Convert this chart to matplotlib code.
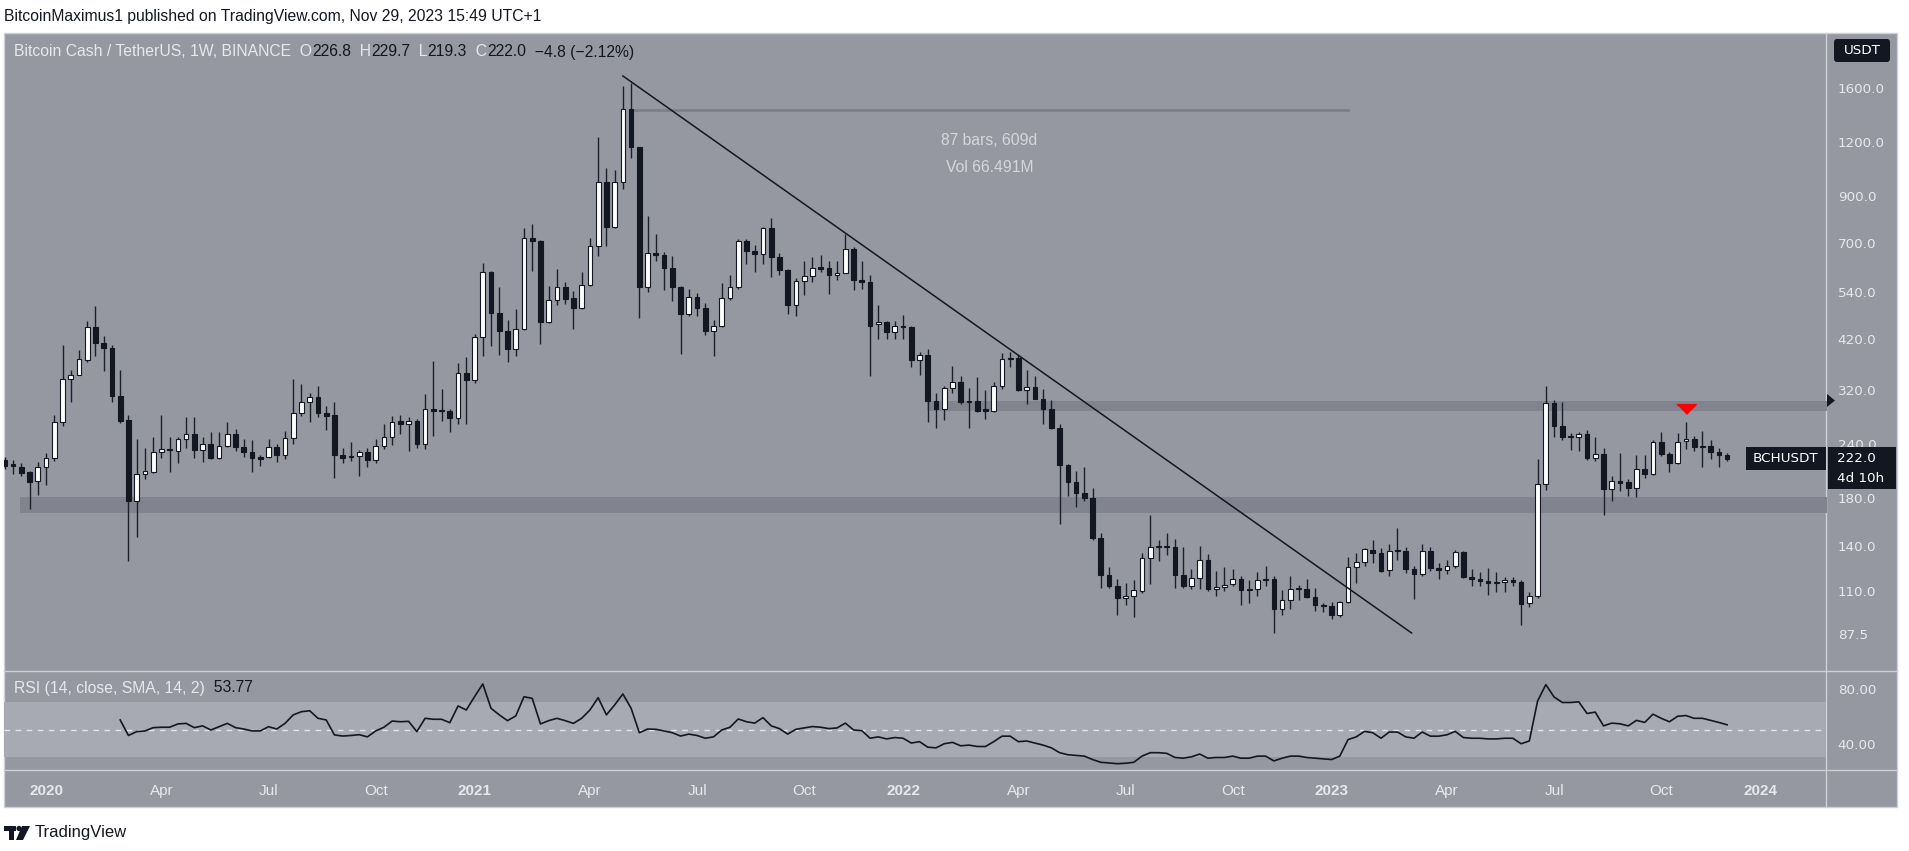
import numpy as np
import pandas as pd
import matplotlib
matplotlib.use('Agg')
import matplotlib.pyplot as plt
import matplotlib.dates as mdates
from matplotlib.ticker import FixedLocator, NullLocator, FuncFormatter
from matplotlib.patches import Rectangle, Polygon, Circle, FancyBboxPatch

# weekly BCHUSDT (Binance) candles, first bar = week of 2019-11-25
first_week = '2019-11-25'
opens = [221, 216, 213, 207, 197, 213, 223, 271, 340, 348,
         376, 448, 412, 401, 311, 273, 178, 205, 207, 231,
         234, 232, 247, 253, 233, 241, 223, 238, 254, 237,
         231, 223, 224, 237, 227, 248, 284, 300, 309, 284,
         280, 227, 224, 226, 230, 221, 238, 250, 272, 268,
         272, 241, 289, 287, 287, 276, 350, 338, 424, 600,
         482, 438, 398, 443, 719, 707, 460, 517, 553, 523,
         496, 561, 690, 971, 762, 971, 1429, 1166, 553, 664,
         656, 612, 555, 480, 526, 496, 438, 451, 524, 555,
         709, 673, 660, 758, 650, 607, 503, 572, 589, 616,
         612, 592, 597, 678, 575, 570, 455, 460, 436, 451,
         448, 376, 387, 302, 290, 324, 335, 301, 303, 289,
         286, 327, 377, 379, 320, 326, 306, 289, 262, 215,
         196, 185, 180, 146, 120, 113, 106, 107, 110, 131,
         139, 140, 139, 119.5, 113, 118, 130, 111, 112.5, 114,
         117, 110.6, 111, 116.6, 117, 100, 105, 111, 111, 106.3,
         102.3, 101.5, 97, 104, 125, 128.5, 137, 135, 123, 136.4,
         136, 123.5, 120.5, 135.8, 124.6, 123, 125.6, 135.4, 118.6, 117.5,
         116, 115, 115.3, 116.6, 115.7, 103, 107, 194, 299, 265,
         249.5, 250, 254, 223.5, 228.5, 189.4, 197.7, 196, 190, 210.7,
         204.8, 243, 228.5, 217.5, 244.5, 246.5, 237, 238, 231, 226.8]
highs = [224, 221, 217, 208, 218, 229, 280, 407, 356, 397,
         463, 500, 427, 408, 356, 280, 247, 235, 250, 280,
         249, 250, 277, 278, 249, 256, 256, 270, 260, 247,
         246, 227, 247, 240, 258, 339, 330, 315, 328, 295,
         300, 235, 243, 233, 235, 247, 268, 279, 280, 278,
         274, 314, 373, 322, 290, 369, 381, 431, 629, 605,
         553, 465, 492, 757, 776, 712, 556, 610, 570, 542,
         601, 719, 1228, 1041, 1032, 1615, 1643, 1170, 808, 735,
         668, 652, 556, 548, 536, 510, 465, 565, 592, 715,
         716, 693, 764, 800, 663, 610, 580, 637, 650, 658,
         638, 636, 733, 686, 637, 590, 504, 462, 462, 478,
         451, 392, 398, 316, 327, 364, 345, 324, 344, 320,
         334, 390, 393, 386, 356, 346, 322, 304, 268, 216,
         208, 213, 190, 150, 125, 117, 115, 116.6, 135, 165,
         144, 150, 145, 139, 124, 140, 134, 122.5, 125, 124,
         119, 116.6, 121.5, 125.5, 119, 110.6, 119, 113.5, 117, 112,
         103.5, 104, 104.5, 132, 134.5, 138.5, 144, 138, 141.6, 154,
         139, 125.6, 141, 139, 128, 130, 137, 136, 123.6, 121.6,
         124.6, 121.6, 118.6, 118.6, 116.6, 109.6, 222, 327, 304, 301,
         255, 256, 259, 250, 236, 202.6, 229, 199.5, 227, 227,
         245, 256, 230.7, 255.4, 270, 251.5, 258, 245.6, 235, 229.7]
lows = [211, 205, 203, 170, 183, 193, 220, 265, 300, 347,
        372, 385, 354, 300, 269, 129, 147, 200, 206, 223,
        207, 217, 236, 223, 219, 222, 222, 237, 232, 225,
        207, 214, 223, 219, 222, 240, 279, 271, 277, 259,
        201, 217, 220, 203, 213, 217, 234, 239, 254, 232,
        236, 234, 251, 272, 256, 267, 268, 332, 384, 405,
        387, 372, 385, 441, 605, 409, 458, 503, 506, 443,
        493, 558, 655, 690, 757, 932, 1102, 470, 540, 636,
        545, 515, 388, 475, 475, 430, 385, 447, 517, 548,
        625, 600, 628, 583, 592, 480, 475, 530, 570, 600,
        535, 575, 597, 545, 549, 346, 420, 420, 420, 421,
        363, 348, 270, 262, 273, 316, 298, 262, 285, 274,
        285, 322, 363, 318, 297, 305, 268, 260, 157, 182,
        172, 178, 144, 112, 112, 97, 102, 96, 109, 114,
        129, 133, 112, 112, 111, 111, 110, 107, 110, 113,
        102, 103, 107, 112.7, 88, 97, 100, 105, 106, 99,
        98.6, 95, 96, 103, 115, 125.6, 128, 121.5, 119.4, 129.5,
        121, 105.4, 119.4, 122.5, 117, 120.4, 124.6, 118, 112.7, 113,
        107.5, 109.3, 109.6, 113, 91.6, 101, 106, 188, 250, 246,
        233, 232, 221, 219.5, 165, 177.6, 187.6, 182.7, 181.7, 201,
        204, 226, 207, 216.7, 234, 232, 213, 222, 213, 219.3]
closes = [214, 214, 206, 196, 213, 223, 271, 340, 348, 377,
          448, 412, 400, 310, 272, 178, 205, 208, 231, 234,
          233, 247, 253, 233, 241, 223, 238, 254, 237, 231,
          223, 222.5, 237, 227, 248, 284, 301, 309, 284, 279,
          227, 223, 226, 230, 221, 238, 250, 271, 268, 272,
          241, 289, 287, 288, 276, 350, 338, 424, 600, 482,
          438, 398, 443, 719, 707, 460, 517, 553, 521, 496,
          561, 690, 971, 762, 971, 1429, 1166, 553, 664, 656,
          612, 555, 480, 526, 496, 438, 451, 524, 555, 709,
          673, 660, 758, 650, 607, 503, 572, 589, 612, 610,
          592, 597, 678, 575, 570, 451, 460, 436, 451, 448,
          376, 387, 302, 290, 324, 335, 301, 303, 287, 286,
          327, 377, 379, 320, 326, 306, 289, 262, 215, 196,
          185, 180, 146, 120, 113, 106, 107, 110.6, 131, 139,
          140, 139, 119.5, 113, 118, 130, 111, 112.5, 113.5, 117,
          110.6, 111, 116.6, 117, 100, 105, 111, 111.2, 106.3, 102.3,
          101.4, 97, 104, 125, 128.5, 137.3, 135, 122.5, 136.4, 136,
          123.5, 120.5, 135.8, 124.6, 123, 125.6, 135.4, 118.6, 117, 116,
          115, 115.3, 116.6, 115.7, 102.8, 107, 194, 299, 265, 249.5,
          250.4, 254, 223, 228.5, 189.4, 197.7, 195.6, 190, 210.7, 204.8,
          243, 228.5, 217.5, 243.6, 246.5, 237, 238, 230.6, 226.8, 222.0]

rsi = [57.3, 46, 48.8, 49.3, 51.7, 52, 52, 54.4, 54.8, 51.7,
       53, 50, 52.4, 54.8, 51.7, 50.7, 49.3, 49.3, 52.4, 50.7,
       54.8, 61, 63.3, 64, 58.5, 57.3, 46.4, 45.6, 46, 46.6,
       45, 49.3, 52, 56.5, 56, 56.3, 48.8, 58.5, 57.8, 57.8,
       55.3, 67.5, 64.5, 74.2, 83.5, 65.8, 61, 56.8, 60.2, 74.2,
       73, 54.4, 56.8, 58.5, 56.8, 54.8, 58.5, 64.5, 73.5, 61,
       68.2, 76.2, 65.8, 48, 50.7, 50.5, 49.3, 48, 45.6, 47,
       46, 44, 45, 50, 52, 58, 56, 55, 59, 53,
       51, 47, 50.5, 51.5, 52.5, 52, 51, 51.5, 55, 50,
       49.5, 44, 45, 43.5, 44.5, 44, 40.5, 41.5, 37.5, 37,
       40, 41, 38.5, 39, 38, 38, 41.5, 45.5, 45.5, 41.5,
       42, 40.5, 39, 37, 33.5, 32, 31.5, 31, 28.5, 26.5,
       26, 25.5, 25.8, 26.5, 31, 33.5, 33.5, 33, 30, 29.5,
       30.5, 32.5, 29.5, 30, 30, 31, 29.5, 29.5, 31, 31,
       27.5, 29.5, 31, 31, 30, 29.5, 29, 28.5, 31, 43,
       45, 49, 48, 44, 48.5, 48.5, 45, 44, 48.5, 45.5,
       45.5, 46.5, 49, 44.5, 44, 44, 43.5, 43.5, 44, 44,
       40, 42, 71, 83, 74, 70, 70, 70.5, 62, 63,
       53, 55, 54.5, 53, 57, 55.5, 61.5, 58.5, 56, 60,
       60.5, 58.5, 58.5, 57, 55.5, 53.77]

price_ticks = [1600, 1200, 900, 700, 540, 420, 320, 240, 180, 140, 110, 87.5]
rsi_ticks = [80, 40]
time_ticks = ['2019-12-30', '2020-04-06', '2020-07-06', '2020-10-05', '2020-12-28',
              '2021-04-05', '2021-07-05', '2021-10-04', '2021-12-27', '2022-04-04',
              '2022-07-04', '2022-10-03', '2022-12-26', '2023-04-03', '2023-07-03',
              '2023-10-02', '2023-12-25']
time_labels = ['2020', 'Apr', 'Jul', 'Oct', '2021', 'Apr', 'Jul', 'Oct', '2022', 'Apr',
               'Jul', 'Oct', '2023', 'Apr', 'Jul', 'Oct', '2024']

# drawings
support_zone = [166.5, 181]
support_start = '2019-12-08'
resistance_zone = [287, 302]
resistance_start = '2022-01-16'
trend_dates = ['2021-05-03', '2023-03-04']
trend_prices = [1703, 88]
range_dates = ['2021-05-10', '2023-01-09']
range_price = 1421
signal_date = '2023-10-23'
signal_price = 290

BG = '#9598a1'
BAND = '#81848e'
RSI_BAND = '#a7aab2'
DARK = '#131722'
LIGHT = '#e6e8ed'
FRAME = '#cdd0d6'
FONT = ['Liberation Sans', 'DejaVu Sans']

W, H = 1909, 851
fig = plt.figure(figsize=(W / 100, H / 100), dpi=100)
fig.patch.set_facecolor('white')


def px_axes(x0, y0, x1, y1):
    return fig.add_axes([x0 / W, 1 - y1 / H, (x1 - x0) / W, (y1 - y0) / H])


# background / frame in pixel coordinates
bg = px_axes(0, 0, W, H)
bg.set_xlim(0, W)
bg.set_ylim(H, 0)
bg.axis('off')
bg.set_zorder(-5)
bg.add_patch(Rectangle((4, 33), 1893, 774, facecolor=BG, edgecolor=FRAME, lw=1))
bg.plot([4, 1897], [671, 671], color=FRAME, lw=1)
bg.plot([4, 1897], [770, 770], color=FRAME, lw=1)
bg.plot([1826, 1826], [33, 807], color=FRAME, lw=1)

dates = pd.date_range(first_week, periods=len(closes), freq='7D')
x = mdates.date2num(dates)
o = np.array(opens)
h = np.array(highs)
l = np.array(lows)
c = np.array(closes)

ax = px_axes(4, 33, 1826, 671)
rax = px_axes(4, 671, 1826, 770)
for a in (ax, rax):
    a.set_facecolor('none')
    for s in a.spines.values():
        s.set_visible(False)

x0 = x[0]
ax.set_xlim(x0 - 0.7, x0 + 221.0 * 7)
rax.set_xlim(x0 - 0.7, x0 + 221.0 * 7)

# price pane
ax.set_yscale('log')
ax.set_ylim(71.9, 2140)
ax.yaxis.set_major_locator(FixedLocator(price_ticks))
ax.yaxis.set_minor_locator(NullLocator())
ax.yaxis.set_major_formatter(FuncFormatter(lambda v, p: f'{v:.1f}'))
ax.yaxis.tick_right()
ax.tick_params(axis='y', length=0, pad=8.5, labelsize=9.7, labelcolor=LIGHT)
ax.tick_params(axis='x', bottom=False, labelbottom=False)

x_end = x0 + 230 * 7
ax.fill_between([mdates.datestr2num(support_start), x_end], support_zone[0], support_zone[1],
                color=BAND, lw=0, zorder=1)
ax.fill_between([mdates.datestr2num(resistance_start), x_end], resistance_zone[0], resistance_zone[1],
                color=BAND, lw=0, zorder=1)
ax.plot(mdates.datestr2num(range_dates), [range_price, range_price], color='#7c7f89', lw=2, zorder=1)

up = c >= o
lo = np.minimum(o, c)
hi = np.maximum(o, c)
hgt = np.maximum(hi - lo, lo * 0.006)
ax.vlines(x, l, h, color='#1c202b', lw=1.0, zorder=3)
ax.bar(x[up], hgt[up], bottom=lo[up], width=4.0, color='white', edgecolor=DARK, lw=0.8, zorder=4)
ax.bar(x[~up], hgt[~up], bottom=lo[~up], width=4.0, color=DARK, edgecolor=DARK, lw=0.8, zorder=4)

ax.plot(mdates.datestr2num(trend_dates), trend_prices, color=DARK, lw=1.1, zorder=5)
ax.plot(mdates.datestr2num(signal_date), signal_price, marker=[(-1, 0.5), (1, 0.5), (0, -0.5)],
        color='#ff0000', ms=14, lw=0, zorder=6)

d_a, d_b = pd.to_datetime(range_dates)
n_bars = int(round((d_b - d_a).days / 7))
mid = mdates.date2num(d_a + (d_b - d_a) / 2)
ax.text(mid, 1205, f'{n_bars} bars, {(d_b - d_a).days}d', ha='center', va='center',
        color='#d5d7dc', fontsize=11.3, family=FONT)
ax.text(mid, 1049, 'Vol 66.491M', ha='center', va='center', color='#d5d7dc', fontsize=11.3, family=FONT)

# RSI pane
rax.set_ylim(20.9, 92.9)
rax.axhspan(30, 70, color=RSI_BAND, lw=0, zorder=0)
rax.axhline(50, color='#e3e5ea', lw=1, ls=(0, (4, 4)), zorder=1)
rax.plot(x[len(closes) - len(rsi):], rsi, color=DARK, lw=1.2, zorder=3)
rax.yaxis.set_major_locator(FixedLocator(rsi_ticks))
rax.yaxis.set_major_formatter(FuncFormatter(lambda v, p: f'{v:.2f}'))
rax.yaxis.tick_right()
rax.tick_params(axis='y', length=0, pad=8.5, labelsize=9.7, labelcolor=LIGHT)
rax.set_xticks(mdates.datestr2num(time_ticks))
rax.set_xticklabels(time_labels)
rax.tick_params(axis='x', length=0, pad=10, labelsize=11, labelcolor=LIGHT)
for t in rax.get_xticklabels():
    t.set_family(FONT)
    if t.get_text().isdigit():
        t.set_fontweight('bold')

# overlay texts and boxes, pixel coordinates
ov = px_axes(0, 0, W, H)
ov.set_xlim(0, W)
ov.set_ylim(H, 0)
ov.axis('off')
ov.set_zorder(10)


def chain(parts, px, py, size):
    t = ov.text(px, py, parts[0][0], color=parts[0][1], fontsize=size, family=FONT, va='center')
    for s, col in parts[1:]:
        t = ov.annotate(s, xy=(1, 0), xycoords=t, va='bottom', ha='left', color=col,
                        fontsize=size, family=FONT)


ov.text(4, 17, 'BitcoinMaximus1 published on TradingView.com, Nov 29, 2023 15:49 UTC+1',
        color=DARK, fontsize=11.3, family=FONT, va='center')

chg = closes[-1] - closes[-2]
pct = chg / closes[-2] * 100
chain([('Bitcoin Cash / TetherUS, 1W, BINANCE', LIGHT),
       ('  O', LIGHT), (f'{opens[-1]:.1f}', DARK),
       ('  H', LIGHT), (f'{highs[-1]:.1f}', DARK),
       ('  L', LIGHT), (f'{lows[-1]:.1f}', DARK),
       ('  C', LIGHT), (f'{closes[-1]:.1f}', DARK),
       (f'  {chg:.1f} ({pct:.2f}%)'.replace('-', '\u2212'), DARK)], 14, 52, 11.3)

chain([('RSI (14, close, SMA, 14, 2)', LIGHT), (f'  {rsi[-1]:.2f}', DARK)], 14, 688, 11.3)

ov.add_patch(FancyBboxPatch((1834, 39), 56, 23, boxstyle='round,pad=0,rounding_size=3',
                            facecolor=DARK, edgecolor='none'))
ov.text(1862, 51, 'USDT', color='white', fontsize=9.7, ha='center', va='center')

# last price label
ov.add_patch(Rectangle((1746, 447), 80, 23, facecolor=DARK, edgecolor='none'))
ov.text(1786, 459, 'BCHUSDT', color='white', fontsize=9.7, ha='center', va='center')
ov.add_patch(Rectangle((1828, 447), 68, 42, facecolor=DARK, edgecolor='none'))
ov.text(1837, 459, f'{closes[-1]:.1f}', color='white', fontsize=9.7, ha='left', va='center')
ov.text(1837, 478, '4d 10h', color='white', fontsize=9.7, ha='left', va='center')

# marker on the price scale for the resistance line
ov.add_patch(Polygon([(1827, 394), (1835, 400.5), (1827, 407)], facecolor=DARK, edgecolor='none'))

# footer logo
ov.add_patch(Rectangle((4, 826), 12, 4.5, facecolor=DARK, edgecolor='none'))
ov.add_patch(Rectangle((9, 826), 5, 14, facecolor=DARK, edgecolor='none'))
ov.add_patch(Circle((19, 828.5), 2.6, facecolor=DARK, edgecolor='none'))
ov.add_patch(Polygon([(22, 826), (30, 826), (23, 840), (16, 840)], facecolor=DARK, edgecolor='none'))
ov.text(35, 833, 'TradingView', color=DARK, fontsize=12, family=FONT, va='center')

plt.savefig('out.png', dpi=100)
